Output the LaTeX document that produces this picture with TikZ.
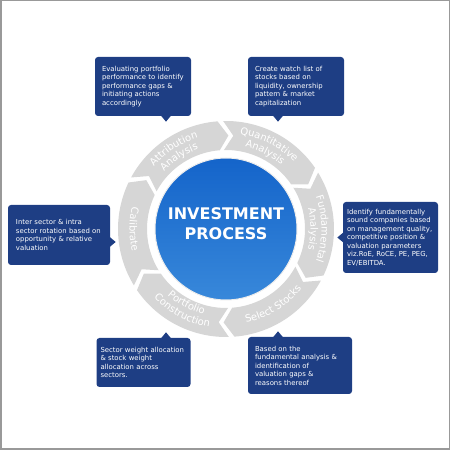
\documentclass[tikz,border=0pt]{standalone}
\usepackage{fontspec}
\setmainfont{DejaVu Sans}
\usepackage{tikz}
\usetikzlibrary{positioning, calc, decorations.text}
\definecolor{boxblue}{RGB}{30, 62, 132}
\definecolor{ringgray}{RGB}{214, 214, 214}
\definecolor{diskdark}{RGB}{20, 100, 202}
\definecolor{disklight}{RGB}{138, 194, 242}
\definecolor{diskmid}{RGB}{56, 136, 218}
\definecolor{framegray}{RGB}{153, 153, 153}
\newcommand{\boxfont}{\fontsize{6.9}{8.5}\selectfont\hyphenpenalty=10000}
\newcommand{\ringfont}{\fontsize{10}{10}\selectfont}
% ring labels: centre angle, radius, text
\newcommand{\cwlabel}[3]{\path[decorate, decoration={text along path, text align=center, text color=white, text={|\ringfont|#3}}] (#1+40:#2) arc[start angle=#1+40, end angle=#1-40, radius=#2];}
\newcommand{\ccwlabel}[3]{\path[decorate, decoration={text along path, text align=center, text color=white, text={|\ringfont|#3}}] (#1-40:#2) arc[start angle=#1-40, end angle=#1+40, radius=#2];}

\begin{document}
\begin{tikzpicture}[x=1pt, y=1pt,
      infobox/.style={fill=boxblue, text=white, align=left, rounded corners=3pt, font=\boxfont, inner xsep=7pt, inner ysep=4pt},
      ringseg/.style={fill=ringgray},
      tipstyle/.style={fill=boxblue}
    ]
      \useasboundingbox (0,0) rectangle (450,450);
      \draw [framegray, line width=1.5] (0.75,0.75) rectangle (449.25,449.25);

      \coordinate (C) at (226,221);

      % ring of six steps
      \begin{scope}[shift={(C)}]
        \foreach \s/\e in {153/93, 93/33, 33/-27, -27/-87, -87/-147, -147/-207}
          \fill [ringseg] (\s-1.5:108) arc[start angle=\s-1.5, end angle=\e+1.5, radius=108]
            -- (\e+1.5-6:93.5) -- (\e+1.5:79) arc[start angle=\e+1.5, end angle=\s-1.5, radius=79]
            -- (\s-1.5-6:93.5) -- cycle;

        \cwlabel{123}{95.5}{Attribution}
        \cwlabel{123}{84.5}{Analysis}
        \cwlabel{63}{95.5}{Quantitative}
        \cwlabel{63}{84.5}{Analysis}
        \cwlabel{0}{95.5}{Fundamental}
        \cwlabel{0}{84.5}{Analysis}
        \ccwlabel{-58}{96}{Select Stocks}
        \ccwlabel{-118}{88.5}{Portfolio}
        \ccwlabel{-118}{99.5}{Construction}
        \ccwlabel{180}{96.5}{Calibrate}
      \end{scope}

      \shade [top color=diskdark, middle color=disklight, bottom color=diskmid, draw=white!85!gray, line width=1] (C) circle[radius=71];
      \node [text=white, align=center, font=\fontsize{16}{20}\selectfont\bfseries] (title) at (226,226) {INVESTMENT\\PROCESS};

      \node [infobox, text width=82, minimum height=59] (attrbox) at (143,363.5) {Evaluating portfolio\\performance to identify\\performance gaps \&\\initiating actions\\accordingly};
      \node [infobox, text width=82, minimum height=59] (quantbox) at (296,363.5) {Create watch list of\\stocks based on\\liquidity, ownership\\pattern \& market\\capitalization};
      \node [infobox, inner xsep=4pt, text width=87, minimum height=71] (fundbox) at (390.5,212.5) {Identify fundamentally\\sound companies based\\on management quality,\\competitive position \&\\valuation parameters\\viz.RoE, RoCE, PE, PEG,\\EV/EBITDA.};
      \node [infobox, inner xsep=8pt, text width=86, minimum height=60] (calibox) at (59,215) {Inter sector \& intra\\sector rotation based on\\opportunity \& relative\\valuation};
      \node [infobox, inner xsep=4pt, text width=86, minimum height=49] (portbox) at (143.5,87.5) {Sector weight allocation\\ \& stock weight\\allocation across\\sectors.};
      \node [infobox, text width=90, minimum height=57] (selbox) at (300,84.5) {Based on the\\fundamental analysis \&\\identification of\\valuation gaps \&\\reasons thereof};

      \fill [tipstyle] ($(attrbox.south)+(18,0.5)$) -- ++(10,0) -- ++(-5,-6) -- cycle;
      \fill [tipstyle] ($(quantbox.south)+(-23,0.5)$) -- ++(10,0) -- ++(-5,-6) -- cycle;
      \fill [tipstyle] ($(fundbox.west)+(0.5,5)$) -- ++(0,-10) -- ++(-6,5) -- cycle;
      \fill [tipstyle] ($(calibox.east)+(-0.5,-2)$) -- ++(0,-10) -- ++(6,5) -- cycle;
      \fill [tipstyle] ($(portbox.north)+(17.5,-0.5)$) -- ++(10,0) -- ++(-5,6) -- cycle;
      \fill [tipstyle] ($(selbox.north)+(-27,-0.5)$) -- ++(10,0) -- ++(-5,6) -- cycle;
    \end{tikzpicture}
\end{document}
